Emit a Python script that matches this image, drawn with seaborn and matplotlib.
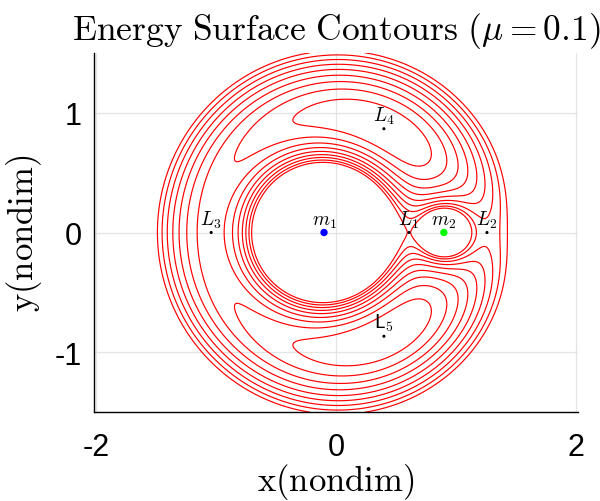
import numpy as np
import pandas as pd
import matplotlib
matplotlib.use("Agg")
import matplotlib.pyplot as plt
import seaborn as sns

# ---- data ----
MU = 0.1
# contour levels of the effective potential (energy)
LEVELS = [-1.800, -1.762, -1.723, -1.685, -1.647, -1.608, -1.570, -1.532, -1.493]
# primaries
BODY_NAMES = ["m1", "m2"]
BODY_X = [-0.1, 0.9]
BODY_Y = [0.0, 0.0]
# Lagrange points
LP_NAMES = ["L1", "L2", "L3", "L4", "L5"]
LP_X = [0.609, 1.260, -1.042, 0.400, 0.400]
LP_Y = [0.0, 0.0, 0.0, 0.866, -0.866]
XTICKS = [-2, 0, 2]
YTICKS = [-1, 0, 1]

sns.set_theme(style="white")
plt.rcParams["font.family"] = ["Liberation Sans", "DejaVu Sans"]
plt.rcParams["mathtext.fontset"] = "cm"
plt.rcParams["axes.unicode_minus"] = False
plt.rcParams["text.color"] = "black"
plt.rcParams["axes.labelcolor"] = "black"

fig = plt.figure(figsize=(6.0, 5.02), dpi=100)
ax = fig.add_axes([94/600, (502-414)/502, (578-94)/600, (414-53)/502])

# energy surface
gx = np.linspace(-2.02, 2.02, 900)
gy = np.linspace(-1.5, 1.5, 700)
X, Y = np.meshgrid(gx, gy)
with np.errstate(divide="ignore"):
    r1 = np.sqrt((X + MU)**2 + Y**2)
    r2 = np.sqrt((X - 1 + MU)**2 + Y**2)
    U = -0.5*(X**2 + Y**2) - (1 - MU)/r1 - MU/r2
ax.contour(X, Y, U, levels=LEVELS, colors="red", linewidths=0.85,
           linestyles="solid")

bodies = pd.DataFrame({"name": BODY_NAMES, "x": BODY_X, "y": BODY_Y})
lps = pd.DataFrame({"name": LP_NAMES, "x": LP_X, "y": LP_Y})

sns.scatterplot(data=lps, x="x", y="y", ax=ax, color="black", s=5,
                edgecolor="none", legend=False, zorder=5)
sns.scatterplot(data=bodies, x="x", y="y", hue="name", palette=["#0000ff", "#00ff00"],
                ax=ax, s=28, edgecolor="none", legend=False, zorder=6)

label_map = {"L1": r"$L_1$", "L2": r"$L_2$", "L3": r"$L_3$", "L4": r"$L_4$",
             "L5": r"$\mathsf{L}_\mathsf{5}$", "m1": r"$m_1$", "m2": r"$m_2$"}
for n, x, y in zip(LP_NAMES + BODY_NAMES, LP_X + BODY_X, LP_Y + BODY_Y):
    ax.annotate(label_map[n], (x, y), xytext=(0, 2), textcoords="offset points",
                ha="center", va="bottom", fontsize=14, color="black", zorder=7)

ax.set_xlim(-2.02, 2.02)
ax.set_ylim(-1.5, 1.5)
ax.set_aspect("equal", adjustable="box")
ax.set_xticks(XTICKS)
ax.set_yticks(YTICKS)
ax.set_xticklabels([str(t) for t in XTICKS])
ax.set_yticklabels([str(t) for t in YTICKS])
ax.tick_params(axis="both", labelsize=22, direction="in", length=4, width=0.8,
               colors="black")
ax.tick_params(axis="x", pad=14)
ax.tick_params(axis="y", pad=9)
ax.grid(True, color="#e4e4e4", linewidth=0.9)
ax.set_axisbelow(True)
for s in ["top", "right"]:
    ax.spines[s].set_visible(False)
for s in ["left", "bottom"]:
    ax.spines[s].set_color("black")
    ax.spines[s].set_linewidth(1.0)

ax.set_title(r"$\mathrm{Energy\ Surface\ Contours\ }(\mu = 0.1)$", fontsize=25.5,
             pad=10, color="black")
ax.set_xlabel(r"$\mathrm{x(nondim)}$", fontsize=25, va="baseline")
ax.xaxis.set_label_coords(0.5, (414-492)/361)
ax.set_ylabel(r"$\mathrm{y(nondim)}$", fontsize=25, va="center")
ax.yaxis.set_label_coords((24-94)/484, 0.5)

fig.savefig("out.png", dpi=100)
